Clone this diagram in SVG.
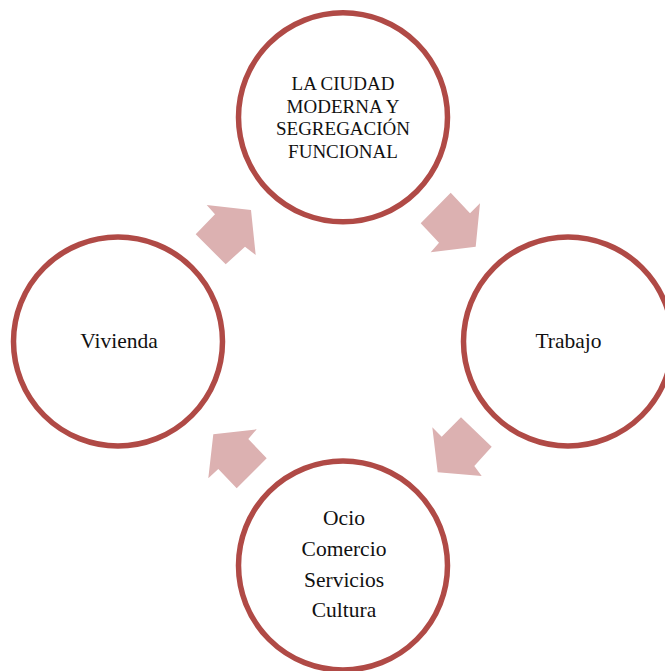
<svg xmlns="http://www.w3.org/2000/svg" width="665" height="671" viewBox="0 0 665 671">
<style>
.c{fill:#fff;stroke:#b04a46;stroke-width:5.5}
.a{fill:#dcb1b1}
.t{font-family:"Liberation Serif","DejaVu Serif",serif;font-size:19px;fill:#111;text-anchor:middle}
.l{font-size:21.5px}
</style>
<rect width="665" height="671" fill="#fff"/>
<g id="connectors">
<polygon class="a" points="206.7,205 251,210 255.7,255 245,246.7 225.7,264.3 195.7,234.3 215,214.3"/>
<polygon class="a" points="450.7,192.7 470,213.3 480,203.3 475.7,246.7 430.7,252.3 439,242.7 420.7,223.3"/>
<polygon class="a" points="461,417.3 491.7,446.7 474.3,466 481.7,476 437.7,472.3 432.3,427.3 441.7,436.7"/>
<polygon class="a" points="213.3,434.3 256.7,429.3 248.3,439 266.7,458.3 236.7,488.3 218.3,469 208.3,478.3"/>
</g>
<g id="top">
<circle class="c" cx="343" cy="117.3" r="104.5"/>
<text class="t" x="343" y="90">LA CIUDAD</text>
<text class="t" x="343" y="112.5">MODERNA Y</text>
<text class="t" x="343" y="135">SEGREGACIÓN</text>
<text class="t" x="343" y="157.5">FUNCIONAL</text>
</g>
<g id="right">
<circle class="c" cx="568" cy="341.5" r="104.5"/>
<text class="t l" x="568.5" y="348">Trabajo</text>
</g>
<g id="bottom">
<circle class="c" cx="343" cy="565.5" r="104.5"/>
<text class="t l" x="344" y="525">Ocio</text>
<text class="t l" x="344" y="556">Comercio</text>
<text class="t l" x="344" y="586.5">Servicios</text>
<text class="t l" x="344" y="617">Cultura</text>
</g>
<g id="left">
<circle class="c" cx="118" cy="341.5" r="104.5"/>
<text class="t l" x="119" y="348">Vivienda</text>
</g>
</svg>
